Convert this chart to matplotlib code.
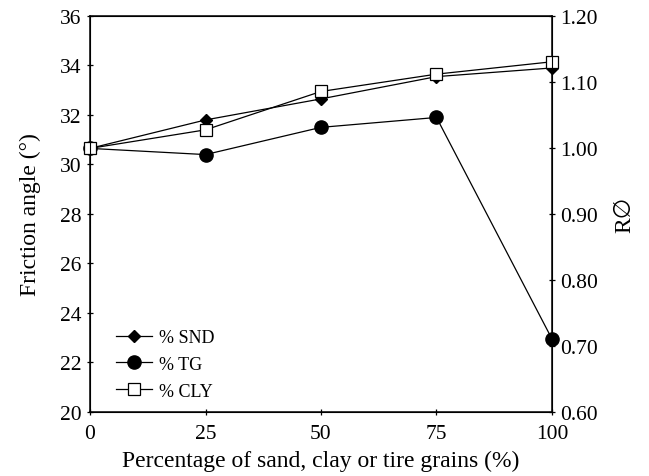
import numpy as np
import matplotlib
matplotlib.use("Agg")
import matplotlib.pyplot as plt

plt.rcParams['font.family'] = ['Liberation Serif', 'DejaVu Serif', 'DejaVu Sans']

x = [0, 25, 50, 75, 100]
snd = [30.65, 31.8, 32.65, 33.55, 33.9]
tg = [30.65, 30.4, 31.5, 31.9, 22.95]
cly = [30.65, 31.4, 32.95, 33.65, 34.15]

left_ticks = np.arange(20, 37, 2)
right_ticks = np.arange(0.60, 1.21, 0.10)

fig = plt.figure(figsize=(6.49, 4.77), dpi=100)
ax = fig.add_axes([0.1387, 0.1342, 0.7118, 0.8302])

lw = 0.9
ax.plot(x, snd, color='black', lw=lw, marker='D', markersize=6.5,
        clip_on=False, zorder=3, label='% SND')
ax.plot(x, tg, color='black', lw=lw, marker='o', markersize=9.5,
        clip_on=False, zorder=3, label='% TG')
ax.plot(x, cly, color='black', lw=lw, marker='s', markersize=8,
        markerfacecolor='white', markeredgewidth=0.9, clip_on=False,
        zorder=3, label='% CLY')

ax.set_xlim(0, 100)
ax.set_ylim(20, 36)
ax.set_xticks(x)
ax.set_yticks(left_ticks)
ax.tick_params(direction='inout', length=5, width=0.9, labelsize=15.5)
ax.tick_params(axis='x', pad=6)
for s in ax.spines.values():
    s.set_linewidth(1.1)

ax.set_xlabel('Percentage of sand, clay or tire grains (%)', fontsize=17, labelpad=5)
ax.set_ylabel('Friction angle (°)', fontsize=17, labelpad=14)

ax2 = ax.twinx()
ax2.set_ylim(0.60, 1.20)
ax2.set_yticks(right_ticks)
ax2.set_yticklabels(['%.2f' % v for v in right_ticks])
ax2.tick_params(direction='inout', length=5, width=0.9, labelsize=15.5)
ax2.set_ylabel('R\u2205', fontsize=17, labelpad=12)

ax.legend(loc='lower left', bbox_to_anchor=(0.02, -0.01), frameon=False,
          fontsize=13, handlelength=2.0, handletextpad=0.4, labelspacing=0.55)

fig.savefig('out.png', dpi=100)
